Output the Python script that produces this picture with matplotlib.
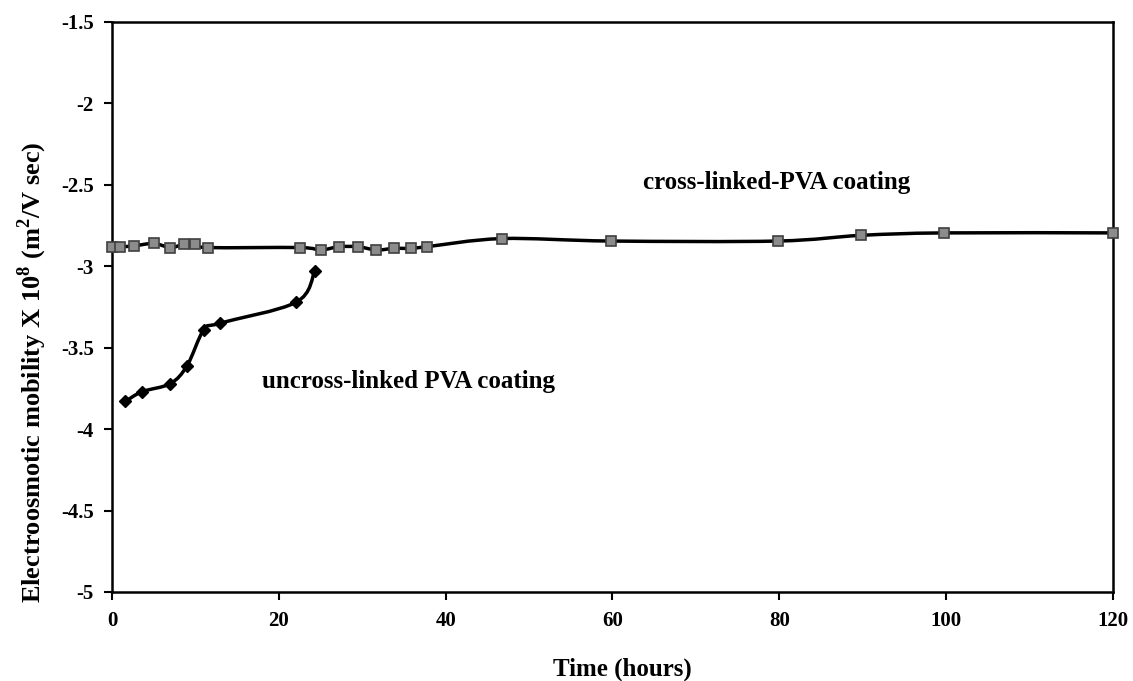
import numpy as np
import matplotlib
matplotlib.use("Agg")
import matplotlib.pyplot as plt
from matplotlib.path import Path
from matplotlib.patches import PathPatch

# cross-linked PVA coating
t_cross = [0, 1, 2.6, 5, 7, 8.6, 10, 11.5, 22.5, 25, 27.2, 29.5, 31.7, 33.8,
           35.8, 37.7, 46.7, 59.8, 79.8, 89.8, 99.8, 120]
mu_cross = [-2.88, -2.88, -2.875, -2.86, -2.885, -2.865, -2.865, -2.885, -2.885,
            -2.90, -2.88, -2.88, -2.90, -2.89, -2.89, -2.88, -2.83, -2.845,
            -2.845, -2.81, -2.795, -2.795]

# uncross-linked PVA coating
t_uncross = [1.6, 3.6, 7.0, 9.0, 11.0, 12.9, 22.1, 24.3]
mu_uncross = [-3.83, -3.77, -3.72, -3.61, -3.39, -3.35, -3.22, -3.03]

xticks = [0, 20, 40, 60, 80, 100, 120]
yticks = [-5, -4.5, -4, -3.5, -3, -2.5, -2, -1.5]
ytick_labels = ['-5', '-4.5', '-4', '-3.5', '-3', '-2.5', '-2', '-1.5']


def smooth_path(x, y):
    # Catmull-Rom style bezier through the points (like Excel smoothed lines)
    p = np.column_stack([x, y]).astype(float)
    verts = [p[0]]
    codes = [Path.MOVETO]
    n = len(p)
    for i in range(n - 1):
        p0 = p[i - 1] if i > 0 else p[i]
        p1 = p[i]
        p2 = p[i + 1]
        p3 = p[i + 2] if i + 2 < n else p[i + 1]
        c1 = p1 + (p2 - p0) / 6.0
        c2 = p2 - (p3 - p1) / 6.0
        verts += [c1, c2, p2]
        codes += [Path.CURVE4] * 3
    return Path(verts, codes)


plt.rcParams['font.family'] = ['Liberation Serif', 'DejaVu Serif']
plt.rcParams['font.weight'] = 'bold'
plt.rcParams['mathtext.fontset'] = 'custom'
plt.rcParams['mathtext.rm'] = 'Liberation Serif:bold'

fig = plt.figure(figsize=(11.33, 6.81), dpi=100)
ax = fig.add_axes([0.0989, 0.1307, 0.8834, 0.8370])

ax.add_patch(PathPatch(smooth_path(t_cross, mu_cross), facecolor='none',
                       edgecolor='black', lw=2.5, zorder=2))
ax.add_patch(PathPatch(smooth_path(t_uncross, mu_uncross), facecolor='none',
                       edgecolor='black', lw=2.5, zorder=2))
ax.plot(t_cross, mu_cross, ls='none', marker='s', ms=7.5, mfc='#8c8c8c',
        mec='#404040', mew=1.2, zorder=3, clip_on=False)
ax.plot(t_uncross, mu_uncross, ls='none', marker='D', ms=6, mfc='black',
        mec='black', zorder=3)

ax.set_xlim(0, 120)
ax.set_ylim(-5, -1.5)
ax.set_xticks(xticks)
ax.set_yticks(yticks)
ax.set_yticklabels(ytick_labels)
ax.tick_params(direction='out', length=6, width=1.5, labelsize=15)
ax.tick_params(axis='x', pad=8)
ax.tick_params(axis='y', pad=7)
for s in ax.spines.values():
    s.set_linewidth(1.8)

ax.set_xlabel('Time (hours)', fontsize=18, fontweight='bold')
ax.xaxis.set_label_coords(0.51, -0.115)
ax.set_ylabel(r'Electroosmotic mobility X 10$^{8}$ (m$^{2}$/V sec)',
              fontsize=19, fontweight='bold')
ax.yaxis.set_label_coords(-0.063, 0.385)

ax.text(63.7, -2.485, 'cross-linked-PVA coating', fontsize=18,
        fontweight='bold', va='center', ha='left')
ax.text(18.0, -3.71, 'uncross-linked PVA coating', fontsize=18,
        fontweight='bold', va='center', ha='left')

fig.savefig('out.png', dpi=100)
